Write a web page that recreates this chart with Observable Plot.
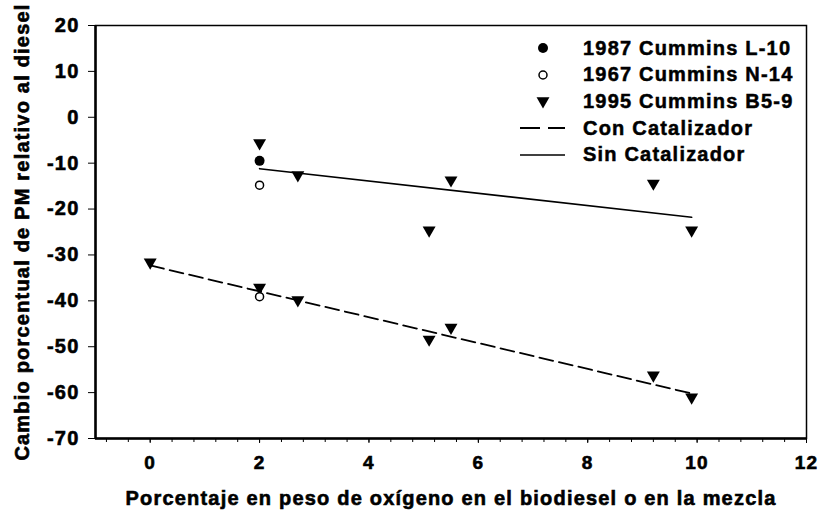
<!DOCTYPE html>
<html><head><meta charset="utf-8">
<script src="https://cdn.jsdelivr.net/npm/d3@7"></script>
<script src="https://cdn.jsdelivr.net/npm/@observablehq/plot@0.6"></script>
<style>
body{margin:0;background:#fff;}
#wrap{position:relative;width:819px;height:510px;font-family:"Liberation Sans",Arial,sans-serif;font-weight:bold;color:#000;letter-spacing:1.2px;}
#wrap svg text{stroke:#000;stroke-width:0.6px;paint-order:stroke;}
#legend{position:absolute;left:518px;top:35px;}
.row{position:absolute;left:0;height:26px;display:flex;align-items:center;white-space:nowrap;font-size:20px;-webkit-text-stroke:0.5px #000;}
.row svg{margin-right:15px;}
</style></head>
<body><div id="wrap"></div>
<script>
// Data
const x1987 = [2];
const y1987 = [-9.5];
const x1967 = [2, 2];
const y1967 = [-14.8, -39.1];
const x1995 = [2, 2.7, 5.5, 9.2, 5.1, 9.9, 0, 2, 2.7, 5.1, 5.5, 9.2, 9.9];
const y1995 = [-5.6, -12.6, -13.7, -14.4, -24.6, -24.6, -31.6, -37.1, -39.8, -48.4, -45.8, -56.2, -61.0];
const conX = [0, 9.9];
const conY = [-32.3, -60.2];
const sinX = [2, 9.9];
const sinY = [-11.2, -21.8];
const xTicks = [0, 2, 4, 6, 8, 10, 12];
const yTicks = [20, 10, 0, -10, -20, -30, -40, -50, -60, -70];
const seriesNames = ["1987 Cummins L-10", "1967 Cummins N-14", "1995 Cummins B5-9", "Con Catalizador", "Sin Catalizador"];
const xTitle = "Porcentaje en peso de oxígeno en el biodiesel o en la mezcla";
const yTitle = "Cambio porcentual de PM relativo al diesel";

const pts = (xs, ys) => xs.map((x, i) => ({x, y: ys[i]}));
const minorTicks = d3.range(-0.8, 12, 0.4).map(v => +v.toFixed(1));
const fmt = d => String(d);

const chart = Plot.plot({
  width: 819, height: 510,
  marginLeft: 95, marginRight: 13, marginTop: 25, marginBottom: 72,
  x: {domain: [-1, 12]},
  y: {domain: [-70, 20]},
  style: {fontFamily: "'Liberation Sans', Arial, sans-serif", fontWeight: "bold", fontSize: "20px", letterSpacing: "1.2px", color: "#000", background: "#fff"},
  marks: [
    Plot.frame({stroke: "#000", strokeWidth: 1.5}),
    Plot.ruleX([-1], {stroke: "#000", strokeWidth: 2.5}),
    Plot.ruleY([-70], {stroke: "#000", strokeWidth: 2.5}),
    Plot.axisY({ticks: yTicks, tickFormat: fmt, tickSize: 7, tickPadding: 9, label: null, fontSize: 20, fontWeight: "bold"}),
    Plot.axisX({ticks: minorTicks, tickSize: 4, tickFormat: () => "", label: null}),
    Plot.axisX({ticks: xTicks, tickFormat: fmt, tickSize: 5, tickPadding: 12, label: null, fontSize: 19, fontWeight: "bold"}),
    Plot.line(pts(conX, conY), {x: "x", y: "y", stroke: "#000", strokeWidth: 1.8, strokeDasharray: "14,6"}),
    Plot.line(pts(sinX, sinY), {x: "x", y: "y", stroke: "#000", strokeWidth: 1.6}),
    Plot.dot(pts(x1995, y1995), {x: "x", y: "y", symbol: "triangle", rotate: 180, r: 4.8, fill: "#000", stroke: "none"}),
    Plot.dot(pts(x1967, y1967), {x: "x", y: "y", symbol: "circle", r: 4, fill: "#fff", stroke: "#000", strokeWidth: 1.5}),
    Plot.dot(pts(x1987, y1987), {x: "x", y: "y", symbol: "circle", r: 5, fill: "#000", stroke: "none"}),
    Plot.text([xTitle], {text: d => d, frameAnchor: "bottom", dy: 60, fontSize: 20, fontWeight: "bold", textAnchor: "middle", lineAnchor: "middle"}),
    Plot.text([yTitle], {text: d => d, frameAnchor: "left", dx: -73, rotate: -90, fontSize: 20, fontWeight: "bold", textAnchor: "middle", lineAnchor: "middle"})
  ]
});
const wrap = document.getElementById("wrap");
wrap.appendChild(chart);

// Legend (HTML overlay)
const legend = document.createElement("div");
legend.id = "legend";
wrap.appendChild(legend);
const ns = "http://www.w3.org/2000/svg";
seriesNames.forEach((name, i) => {
  const row = document.createElement("div");
  row.className = "row";
  row.style.top = (i * 26.7) + "px";
  const svg = document.createElementNS(ns, "svg");
  svg.setAttribute("width", 50); svg.setAttribute("height", 26);
  if (i < 3) {
    const p = document.createElementNS(ns, "path");
    if (i === 0) { p.setAttribute("d", d3.symbol(d3.symbolCircle, Math.PI * 25)()); p.setAttribute("fill", "#000"); }
    if (i === 1) { p.setAttribute("d", d3.symbol(d3.symbolCircle, Math.PI * 16)()); p.setAttribute("fill", "#fff"); p.setAttribute("stroke", "#000"); p.setAttribute("stroke-width", 1.5); }
    if (i === 2) { p.setAttribute("d", d3.symbol(d3.symbolTriangle, Math.PI * 4.8 * 4.8)()); p.setAttribute("fill", "#000"); p.setAttribute("transform", "translate(25,13) rotate(180)"); }
    if (i !== 2) p.setAttribute("transform", "translate(25,13)");
    svg.appendChild(p);
  } else {
    const l = document.createElementNS(ns, "line");
    l.setAttribute("x1", 2); l.setAttribute("x2", 47); l.setAttribute("y1", 13); l.setAttribute("y2", 13);
    l.setAttribute("stroke", "#000");
    l.setAttribute("stroke-width", i === 3 ? 2 : 1.6);
    if (i === 3) l.setAttribute("stroke-dasharray", "20,8");
    svg.appendChild(l);
  }
  row.appendChild(svg);
  const t = document.createElement("span");
  t.textContent = name;
  row.appendChild(t);
  legend.appendChild(row);
});
</script>
</body></html>
